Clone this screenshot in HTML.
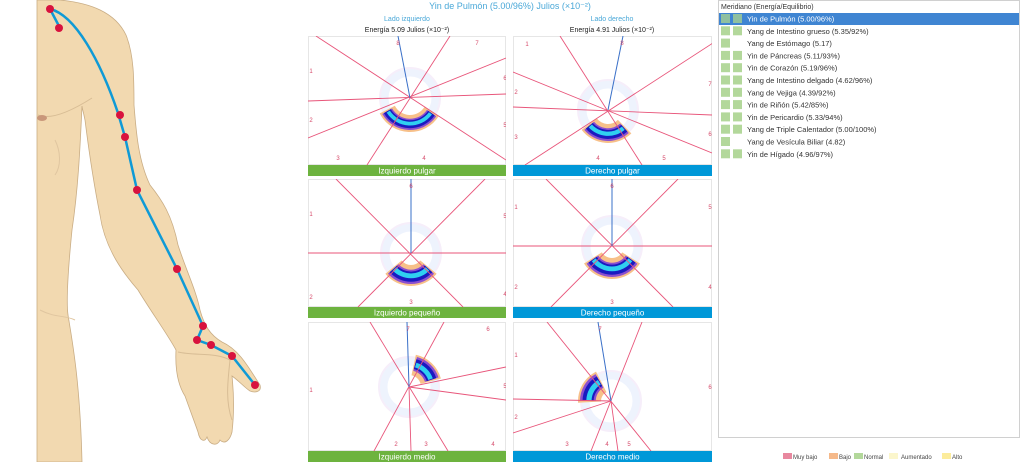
<!DOCTYPE html>
<html><head><meta charset="utf-8"><style>
body{margin:0;width:1024px;height:462px;background:#fff;overflow:hidden;font-family:"Liberation Sans",sans-serif;}
svg{position:absolute;left:0;top:0}
</style></head><body>
<svg id="s" width="1024" height="462" viewBox="0 0 1024 462" xmlns="http://www.w3.org/2000/svg" font-family="Liberation Sans, sans-serif">
<!-- body -->
<path d="M37,0 L60,0 C90,3 115,12 126,35 C134,55 134,80 134,105 C136,130 138,160 150,185 C162,200 172,215 178,245 C186,270 196,290 200,310 C204,325 210,335 222,342 C240,350 250,370 260,385 C262,392 255,393 250,391 C245,388 238,380 232,376 C234,395 234,415 232,432 C230,440 225,445 220,440 C218,446 210,446 207,437 C205,442 200,442 198,432 C196,426 190,410 185,396 C178,385 175,370 176,350 C168,335 150,310 138,290 C125,275 105,250 100,215 C95,190 90,160 85,120 C83,110 82,108 82,106 C80,150 78,190 72,230 C68,270 66,300 68,315 C72,340 80,380 82,462 L37,462 Z" fill="#f2d9b0" stroke="#c9ad85" stroke-width="0.8"/>
<path d="M38,115 C50,120 70,112 92,98" fill="none" stroke="#d8bd95" stroke-width="1"/>
<path d="M55,140 C60,150 62,165 55,175 M40,310 C55,318 65,315 75,320" fill="none" stroke="#e0c6a0" stroke-width="1"/>
<ellipse cx="42" cy="118" rx="5" ry="3" fill="#c9977a"/>
<path d="M178,352 C195,356 215,352 230,360 C228,380 225,400 232,420" fill="none" stroke="#d8bd95" stroke-width="1"/>
<!-- meridian -->
<path d="M50,9 L60,28 M50,9 C75,15 100,60 118,113 L125,137 L137,190 L177,269 L203,326 L197,340 L211,345 L232,356 L255,385" fill="none" stroke="#0f9ad6" stroke-width="2.5"/>
<g fill="#d8123e">
<circle cx="50" cy="9" r="4"/><circle cx="59" cy="28" r="4"/><circle cx="120" cy="115" r="4"/><circle cx="125" cy="137" r="4"/><circle cx="137" cy="190" r="4"/><circle cx="177" cy="269" r="4"/><circle cx="203" cy="326" r="4"/><circle cx="197" cy="340" r="4"/><circle cx="211" cy="345" r="4"/><circle cx="232" cy="356" r="4"/><circle cx="255" cy="385" r="4"/>
</g>
<!-- titles -->
<text x="510" y="9" font-size="9" fill="#4aa8d8" text-anchor="middle">Yin de Pulmón (5.00/96%) Julios (×10⁻²)</text>
<text x="407" y="21" font-size="7" fill="#4aa8d8" text-anchor="middle">Lado izquierdo</text>
<text x="612" y="21" font-size="7" fill="#4aa8d8" text-anchor="middle">Lado derecho</text>
<text x="407" y="32" font-size="7" fill="#222" text-anchor="middle">Energía 5.09 Julios (×10⁻²)</text>
<text x="612" y="32" font-size="7" fill="#222" text-anchor="middle">Energía 4.91 Julios (×10⁻²)</text>
<g id="panels"></g>
<!-- list -->
<rect x="718.5" y="0.5" width="301" height="437" fill="#fff" stroke="#d0d0d0"/>
<text x="721" y="9" font-size="7" fill="#333">Meridiano (Energía/Equilibrio)</text>
<rect x="719" y="13" width="300" height="12" fill="#3f85d2"/>
<g id="list" font-size="7.5"></g>
<!-- legend -->
<g font-size="6" fill="#444">
<rect x="783" y="453" width="9" height="6" fill="#e8889f"/><text x="793" y="459">Muy bajo</text>
<rect x="829" y="453" width="9" height="6" fill="#f5b98a"/><text x="839" y="459">Bajo</text>
<rect x="854" y="453" width="9" height="6" fill="#b3d89b"/><text x="864" y="459">Normal</text>
<rect x="889" y="453" width="9" height="6" fill="#fbf6cc"/><text x="901" y="459">Aumentado</text>
<rect x="942" y="453" width="9" height="6" fill="#fcec9c"/><text x="952" y="459">Alto</text>
</g>
</svg>
<script>
const NS="http://www.w3.org/2000/svg";
function el(p,t,a,txt){const e=document.createElementNS(NS,t);for(const k in a)e.setAttribute(k,a[k]);if(txt!==undefined)e.textContent=txt;p.appendChild(e);return e;}
function sector(cx,cy,a1,a2,r1,r2){const r=Math.PI/180;const p=(a,rr)=>[cx+rr*Math.cos(a*r),cy+rr*Math.sin(a*r)];const [x1,y1]=p(a1,r2),[x2,y2]=p(a2,r2),[x3,y3]=p(a2,r1),[x4,y4]=p(a1,r1);const lg=Math.abs(a2-a1)>180?1:0;return `M${x1},${y1} A${r2},${r2} 0 ${lg} 1 ${x2},${y2} L${x3},${y3} A${r1},${r1} 0 ${lg} 0 ${x4},${y4} Z`;}
const g=document.getElementById('panels');
const P=[
{x:308,y:36,w:198,h:129,bar:'Izquierdo pulgar',c:'#6db33f',cx:410,cy:98,a:[35,150],r:[17,32],
 L:[[316,36,506,160],[450,36,367,165],[308,101,506,94],[308,138,506,58]],B:[398,36],
 N:[[8,398,45],[7,477,45],[1,311,73],[6,505,80],[2,311,122],[5,505,127],[3,338,160],[4,424,160]]},
{x:513,y:36,w:199,h:129,bar:'Derecho pulgar',c:'#0098d8',cx:608,cy:110,a:[48,140],r:[14,31],
 L:[[560,36,642,165],[513,72,712,153],[513,107,712,115],[713,43,525,165]],B:[623,36],
 N:[[1,527,46],[8,622,45],[2,516,94],[7,710,86],[3,516,139],[6,710,136],[4,598,160],[5,664,160]]},
{x:308,y:179,w:198,h:128,bar:'Izquierdo pequeño',c:'#6db33f',cx:411,cy:253,a:[42,138],r:[12,31],
 L:[[308,253,506,253],[336,179,463,307],[485,179,358,307]],B:[411,179],
 N:[[1,311,216],[6,411,188],[5,505,218],[2,311,299],[3,411,304],[4,505,296]]},
{x:513,y:179,w:199,h:128,bar:'Derecho pequeño',c:'#0098d8',cx:612,cy:246,a:[35,145],r:[12,31],
 L:[[513,246,712,246],[546,179,673,307],[678,179,551,307]],B:[612,179],
 N:[[1,516,209],[6,612,188],[5,710,209],[2,516,289],[3,612,304],[4,710,289]]},
{x:308,y:322,w:198,h:129,bar:'Izquierdo medio',c:'#6db33f',cx:409,cy:387,a:[-75,-18],r:[12,31],
 L:[[370,322,448,451],[444,322,374,451],[506,367,409,387],[506,400,409,387],[411,451,409,387]],B:[407,322],
 N:[[7,408,331],[6,488,331],[1,311,392],[5,505,388],[2,396,446],[3,426,446],[4,493,446]]},
{x:513,y:322,w:199,h:129,bar:'Derecho medio',c:'#0098d8',cx:611,cy:401,a:[180,240],r:[10,31],
 L:[[547,322,651,451],[642,322,591,451],[513,399,611,401],[513,433,611,401],[618,451,611,401]],B:[598,322],
 N:[[7,600,331],[1,516,357],[6,710,389],[2,516,419],[3,567,446],[4,607,446],[5,629,446]]}
];
P.forEach(p=>{
 el(g,'rect',{x:p.x+0.5,y:p.y+0.5,width:p.w-1,height:p.h-1,fill:'#fff',stroke:'#e6e6e6'});
 const cp='cp'+p.x+p.y; const d=el(g,'clipPath',{id:cp});el(d,'rect',{x:p.x,y:p.y,width:p.w,height:p.h});
 const gg=el(g,'g',{'clip-path':`url(#${cp})`});
 el(gg,'circle',{cx:p.cx,cy:p.cy,r:26,fill:'none',stroke:'#eef3fd',"stroke-width":9});
 el(gg,'circle',{cx:p.cx,cy:p.cy,r:30,fill:'none',stroke:'#f6eefa',"stroke-width":2});
 const [r1,r2]=p.r,dr=r2-r1,[a1,a2]=p.a;
 el(gg,'path',{d:sector(p.cx,p.cy,a1-3,a2+3,r1,r2+2),fill:'#f7c089'});
 el(gg,'path',{d:sector(p.cx,p.cy,a1,a2,r1+dr*0.25,r2),fill:'#8a4fd0'});
 el(gg,'path',{d:sector(p.cx,p.cy,a1,a2,r1+dr*0.35,r2-dr*0.12),fill:'#1a1ac0'});
 el(gg,'path',{d:sector(p.cx,p.cy,a1+2,a2-2,r1+dr*0.45,r2-dr*0.3),fill:'#2fd0f0'});
 p.L.forEach(l=>el(gg,'line',{x1:l[0],y1:l[1],x2:l[2],y2:l[3],stroke:'#e8557a','stroke-width':0.9}));
 el(gg,'line',{x1:p.B[0],y1:p.B[1],x2:p.cx,y2:p.cy,stroke:'#3a70c8','stroke-width':1});
 p.N.forEach(n=>el(gg,'text',{x:n[1],y:n[2],'font-size':6,fill:'#d64a6a','text-anchor':'middle'},String(n[0])));
 el(g,'rect',{x:p.x,y:p.y+p.h,width:p.w,height:11,fill:p.c});
 el(g,'text',{x:p.x+p.w/2,y:p.y+p.h+8.5,'font-size':8,fill:'#fff','text-anchor':'middle'},p.bar);
});
const items=[['Yin de Pulmón (5.00/96%)',2],['Yang de Intestino grueso (5.35/92%)',2],['Yang de Estómago (5.17)',1],['Yin de Páncreas (5.11/93%)',2],['Yin de Corazón (5.19/96%)',2],['Yang de Intestino delgado (4.62/96%)',2],['Yang de Vejiga (4.39/92%)',2],['Yin de Riñón (5.42/85%)',2],['Yin de Pericardio (5.33/94%)',2],['Yang de Triple Calentador (5.00/100%)',2],['Yang de Vesícula Biliar (4.82)',1],['Yin de Hígado (4.96/97%)',2]];
const lg=document.getElementById('list');
items.forEach((it,i)=>{const y=14+i*12.3;
 el(lg,'rect',{x:721,y:y,width:9,height:9,fill:i==0?'#8fc0a0':'#b3d89b'});
 if(it[1]==2)el(lg,'rect',{x:733,y:y,width:9,height:9,fill:i==0?'#8fc0a0':'#b3d89b'});
 el(lg,'text',{x:747,y:y+7.5,fill:i==0?'#fff':'#333'},it[0]);});
</script>
</body></html>
